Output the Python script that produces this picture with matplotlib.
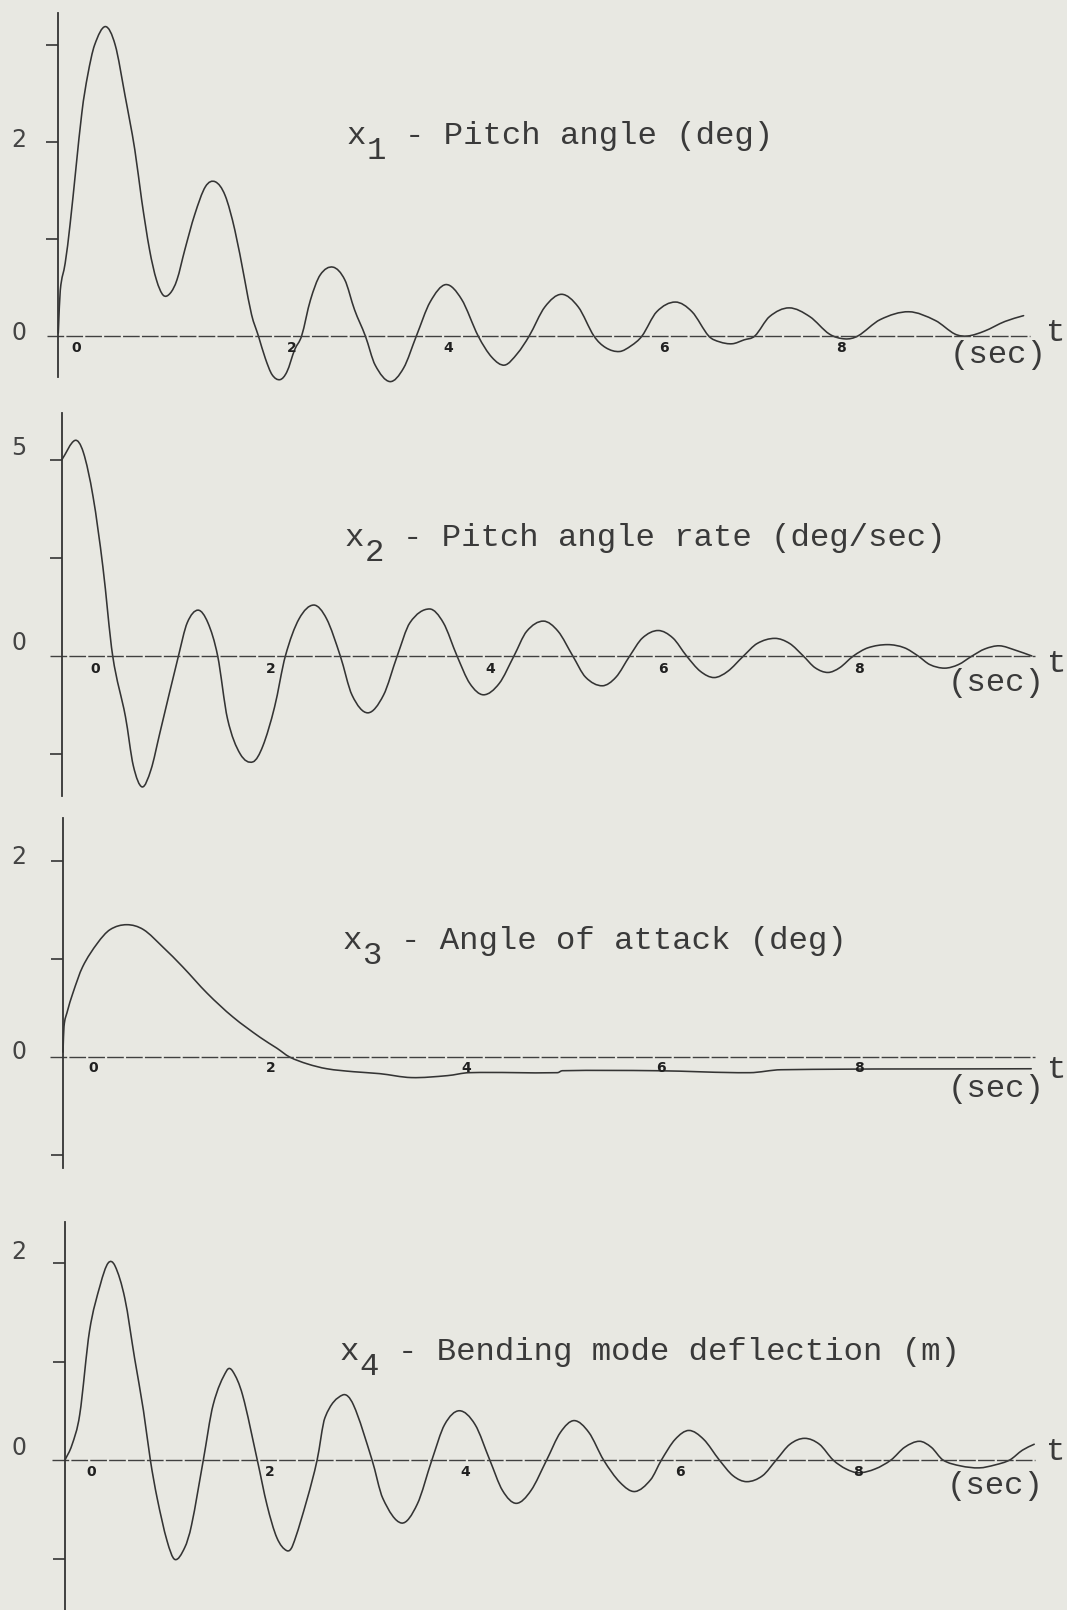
import matplotlib
matplotlib.use("Agg")
import matplotlib.pyplot as plt
from matplotlib.path import Path
from matplotlib.patches import PathPatch

W, H, DPI = 1067, 1610, 100
PX_PER_SEC = 98.1

# ---------------- data (t in sec, value) ----------------
pitch_angle = [
    (0.00, 0.03), (0.02, 0.47), (0.07, 0.75), (0.12, 1.15), (0.24, 2.30), (0.30, 2.69),
    (0.37, 3.00), (0.48, 3.19), (0.58, 3.00), (0.68, 2.48), (0.78, 1.92), (0.85, 1.40),
    (0.93, 0.89), (1.00, 0.58), (1.07, 0.42), (1.14, 0.44), (1.21, 0.58), (1.29, 0.89),
    (1.39, 1.25), (1.50, 1.54), (1.60, 1.59), (1.70, 1.45), (1.80, 1.09), (1.90, 0.58),
    (1.97, 0.22), (2.04, 0.00), (2.11, -0.23), (2.18, -0.40), (2.26, -0.45), (2.33, -0.37),
    (2.41, -0.14), (2.48, 0.00), (2.57, 0.37), (2.67, 0.63), (2.80, 0.71), (2.92, 0.58),
    (3.02, 0.27), (3.13, 0.00), (3.23, -0.30), (3.38, -0.47), (3.52, -0.33), (3.65, 0.00),
    (3.79, 0.35), (3.95, 0.53), (4.11, 0.38), (4.28, 0.00), (4.42, -0.22), (4.55, -0.30),
    (4.68, -0.18), (4.80, 0.00), (4.96, 0.30), (5.13, 0.43), (5.30, 0.30), (5.46, 0.00),
    (5.58, -0.12), (5.72, -0.16), (5.84, -0.10), (5.95, 0.00), (6.10, 0.25), (6.29, 0.35),
    (6.46, 0.25), (6.63, 0.00), (6.74, -0.06), (6.87, -0.08), (6.99, -0.04), (7.10, 0.00),
    (7.25, 0.20), (7.45, 0.29), (7.66, 0.20), (7.86, 0.02), (8.02, -0.03), (8.15, 0.00),
    (8.38, 0.17), (8.67, 0.25), (8.94, 0.16), (9.14, 0.02), (9.27, 0.00), (9.44, 0.05),
    (9.65, 0.15), (9.84, 0.21),
]

pitch_rate = [
    (0.00, 5.00), (0.135, 5.50), (0.22, 5.20), (0.32, 4.06), (0.42, 2.27), (0.52, 0.00),
    (0.65, -1.55), (0.73, -2.80), (0.82, -3.34), (0.91, -2.90), (1.00, -1.97), (1.19, 0.00),
    (1.28, 0.85), (1.39, 1.17), (1.49, 0.85), (1.59, 0.00), (1.69, -1.60), (1.82, -2.50),
    (1.95, -2.70), (2.05, -2.30), (2.17, -1.30), (2.28, 0.00), (2.42, 0.95), (2.57, 1.30),
    (2.70, 0.95), (2.84, 0.00), (2.96, -1.00), (3.12, -1.45), (3.28, -1.00), (3.42, 0.00),
    (3.55, 0.85), (3.75, 1.20), (3.89, 0.85), (4.03, 0.00), (4.16, -0.70), (4.30, -0.99),
    (4.46, -0.70), (4.61, 0.00), (4.74, 0.63), (4.91, 0.89), (5.06, 0.63), (5.21, 0.00),
    (5.34, -0.54), (5.51, -0.76), (5.65, -0.54), (5.79, 0.00), (5.92, 0.46), (6.08, 0.65),
    (6.23, 0.46), (6.37, 0.00), (6.51, -0.39), (6.65, -0.55), (6.79, -0.39), (6.95, 0.00),
    (7.09, 0.32), (7.27, 0.45), (7.42, 0.32), (7.56, 0.00), (7.68, -0.30), (7.81, -0.42),
    (7.93, -0.30), (8.07, 0.00), (8.22, 0.21), (8.42, 0.29), (8.59, 0.21), (8.73, 0.00),
    (8.85, -0.22), (9.00, -0.31), (9.14, -0.22), (9.28, 0.00), (9.41, 0.18), (9.56, 0.26),
    (9.72, 0.15), (9.89, 0.00),
]

angle_of_attack = [
    (0.00, 0.05), (0.01, 0.31), (0.04, 0.45), (0.10, 0.65), (0.20, 0.92), (0.35, 1.16),
    (0.48, 1.30), (0.65, 1.35), (0.82, 1.30), (1.02, 1.12), (1.22, 0.92), (1.47, 0.65),
    (1.73, 0.41), (2.01, 0.20), (2.18, 0.09), (2.31, 0.00), (2.49, -0.07), (2.69, -0.12),
    (2.96, -0.15), (3.23, -0.17), (3.55, -0.21), (3.92, -0.19), (4.14, -0.16), (5.04, -0.16),
    (5.09, -0.14), (6.05, -0.14), (7.00, -0.16), (7.32, -0.13), (9.87, -0.12),
]

bending_deflection = [
    (0.00, 0.00), (0.07, 0.15), (0.15, 0.46), (0.25, 1.31), (0.36, 1.78), (0.44, 2.00),
    (0.51, 1.97), (0.61, 1.64), (0.71, 1.03), (0.80, 0.50), (0.87, 0.00), (0.94, -0.39),
    (1.04, -0.82), (1.12, -1.01), (1.22, -0.89), (1.29, -0.66), (1.41, 0.00), (1.51, 0.56),
    (1.65, 0.91), (1.71, 0.90), (1.81, 0.66), (1.96, 0.00), (2.06, -0.46), (2.16, -0.79),
    (2.26, -0.92), (2.32, -0.87), (2.47, -0.39), (2.57, 0.00), (2.65, 0.43), (2.83, 0.66),
    (2.94, 0.56), (3.13, 0.00), (3.24, -0.39), (3.43, -0.64), (3.59, -0.45), (3.74, 0.00),
    (3.87, 0.36), (4.02, 0.50), (4.18, 0.36), (4.33, 0.00), (4.46, -0.31), (4.60, -0.44),
    (4.75, -0.31), (4.91, 0.00), (5.05, 0.28), (5.19, 0.40), (5.34, 0.28), (5.49, 0.00),
    (5.66, -0.23), (5.81, -0.32), (5.97, -0.20), (6.08, 0.00), (6.22, 0.21), (6.36, 0.30),
    (6.51, 0.21), (6.67, 0.00), (6.81, -0.16), (6.95, -0.22), (7.11, -0.16), (7.25, 0.00),
    (7.39, 0.16), (7.54, 0.22), (7.69, 0.16), (7.83, 0.00), (7.96, -0.09), (8.09, -0.13),
    (8.26, -0.09), (8.42, 0.00), (8.56, 0.13), (8.71, 0.19), (8.83, 0.13), (8.95, 0.00),
    (9.13, -0.06), (9.32, -0.08), (9.48, -0.05), (9.63, 0.00), (9.76, 0.10), (9.88, 0.16),
]

series = [pitch_angle, pitch_rate, angle_of_attack, bending_deflection]
titles = ["Pitch angle (deg)", "Pitch angle rate (deg/sec)",
          "Angle of attack (deg)", "Bending mode deflection (m)"]
subscripts = ["1", "2", "3", "4"]
y_tick_values = [[3, 2, 1], [5, 2.5, -2.5], [2, 1, -1], [2, 1, -1]]
y_tick_labels = [["2", "0"], ["5", "0"], ["2", "0"], ["2", "0"]]
x_tick_labels = ["0", "2", "4", "6", "8"]

# ---------------- layout (pixels, y measured from top) ----------------
layout = [
    dict(top=0, bottom=400, axis_x=58.3, zero=336, unit=97.0, span=(13, 377),
         zl=(47, 1030), ylab_y=[140, 333], xlab_x=[76, 292, 448, 664, 841], xlab_y=348,
         title=(347, 144), sec=(998, 355), t=(1056, 333)),
    dict(top=400, bottom=800, axis_x=61.7, zero=656, unit=39.2, span=(413, 796),
         zl=(50, 1035), ylab_y=[448, 643], xlab_x=[95, 271, 490, 663, 859], xlab_y=669,
         title=(345, 546), sec=(996, 683), t=(1057, 664)),
    dict(top=800, bottom=1190, axis_x=63.0, zero=1057, unit=98.0, span=(818, 1168),
         zl=(50, 1035), ylab_y=[857, 1052], xlab_x=[93, 271, 466, 661, 859], xlab_y=1068,
         title=(343, 949), sec=(996, 1089), t=(1057, 1070)),
    dict(top=1190, bottom=1610, axis_x=65.0, zero=1460, unit=98.5, span=(1222, 1610),
         zl=(52, 1035), ylab_y=[1252, 1448], xlab_x=[91, 270, 465, 680, 858], xlab_y=1472,
         title=(340, 1360), sec=(995, 1486), t=(1056, 1452)),
]

BG = "#e8e8e2"
INK = "#343434"
TXT = "#3a3a3a"
MONO = ["Liberation Mono", "DejaVu Sans Mono"]
MONO_SIZE = 23.3
ADV = 0.6 * MONO_SIZE * DPI / 72.0   # character advance in px
SUB_DROP = 15

fig = plt.figure(figsize=(W / DPI, H / DPI), dpi=DPI, facecolor=BG)


def fx(x):
    return x / W


def fy(y):
    return 1 - y / H


def smooth_path(ts, vs):
    """Cubic Hermite (Catmull-Rom style) path through the read points."""
    n = len(ts)
    slopes = []
    for i in range(n):
        a, b = max(i - 1, 0), min(i + 1, n - 1)
        slopes.append((vs[b] - vs[a]) / (ts[b] - ts[a]))
    verts = [(ts[0], vs[0])]
    codes = [Path.MOVETO]
    for i in range(n - 1):
        h = ts[i + 1] - ts[i]
        verts += [(ts[i] + h / 3, vs[i] + slopes[i] * h / 3),
                  (ts[i + 1] - h / 3, vs[i + 1] - slopes[i + 1] * h / 3),
                  (ts[i + 1], vs[i + 1])]
        codes += [Path.CURVE4] * 3
    return Path(verts, codes)


for data, title, sub, yt, ylabs, L in zip(series, titles, subscripts,
                                          y_tick_values, y_tick_labels, layout):
    top, bottom, zero, unit, ax_x = L["top"], L["bottom"], L["zero"], L["unit"], L["axis_x"]
    ax = fig.add_axes([0, fy(bottom), 1, (bottom - top) / H])
    ax.patch.set_visible(False)
    ax.set_xlim(-ax_x / PX_PER_SEC, (W - ax_x) / PX_PER_SEC)
    ax.set_ylim((zero - bottom) / unit, (zero - top) / unit)

    for s in ("top", "right", "bottom"):
        ax.spines[s].set_visible(False)
    ax.spines["left"].set_position(("data", 0))
    ax.spines["left"].set_bounds((zero - L["span"][1]) / unit, (zero - L["span"][0]) / unit)
    ax.spines["left"].set_color(INK)
    ax.spines["left"].set_linewidth(1.3)
    ax.set_xticks([])
    ax.set_yticks(yt)
    ax.tick_params(axis="y", direction="out", length=8.6, width=1.2, color=INK,
                   labelleft=False)

    # zero (time) axis, dashed
    ax.axhline(0, xmin=L["zl"][0] / W, xmax=L["zl"][1] / W, color="#404040",
               lw=1.0, ls=(0, (12, 1.6)))

    ts = [p[0] for p in data]
    vs = [p[1] for p in data]
    ax.add_patch(PathPatch(smooth_path(ts, vs), facecolor="none", edgecolor=INK,
                           lw=1.15, joinstyle="round", capstyle="round"))

    # y labels
    for lab, yy in zip(ylabs, L["ylab_y"]):
        fig.text(fx(19), fy(yy), lab, ha="center", va="center", fontsize=17,
                 color="#444444", family="DejaVu Sans")
    # x labels
    for lab, xx in zip(x_tick_labels, L["xlab_x"]):
        fig.text(fx(xx), fy(L["xlab_y"]), lab, ha="center", va="center", fontsize=10,
                 color="#202020", family="DejaVu Sans", fontweight="bold")

    # title: monospace cells -> "x", lowered subscript, then the rest from cell 3
    tx, tyb = L["title"]
    fig.text(fx(tx), fy(tyb), "x", ha="left", va="baseline",
             fontsize=MONO_SIZE, family=MONO, color=TXT)
    fig.text(fx(tx + ADV), fy(tyb + SUB_DROP), sub, ha="left", va="baseline",
             fontsize=MONO_SIZE, family=MONO, color=TXT)
    fig.text(fx(tx + 3 * ADV), fy(tyb), "- " + title, ha="left", va="baseline",
             fontsize=MONO_SIZE, family=MONO, color=TXT)

    fig.text(fx(L["sec"][0]), fy(L["sec"][1]), "(sec)", ha="center", va="center",
             fontsize=MONO_SIZE, family=MONO, color=TXT)
    fig.text(fx(L["t"][0]), fy(L["t"][1]), "t", ha="center", va="center",
             fontsize=MONO_SIZE, family=MONO, color=TXT)

fig.savefig("out.png", dpi=DPI, facecolor=BG)
